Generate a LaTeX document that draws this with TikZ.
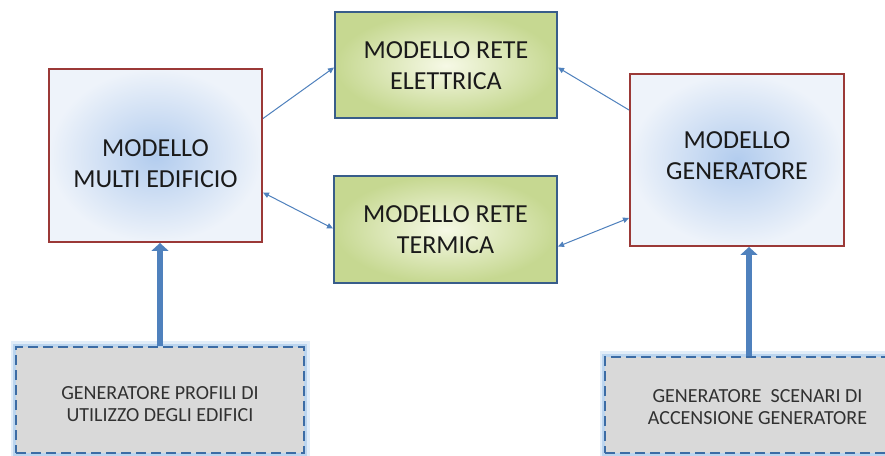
\documentclass[tikz,border=0pt]{standalone}
\usepackage{fontspec}
\setmainfont{Carlito}
\usepackage{tikz}
\usetikzlibrary{arrows.meta,positioning}
\definecolor{boxred}{RGB}{155,57,55}
\definecolor{paleblue}{RGB}{238,243,250}
\definecolor{blobblue}{RGB}{178,204,238}
\definecolor{edgegreen}{RGB}{198,216,145}
\definecolor{palegreen}{RGB}{246,249,230}
\definecolor{framenavy}{RGB}{56,93,138}
\definecolor{arrowblue}{RGB}{79,129,189}
\definecolor{dashblue}{RGB}{60,108,165}
\definecolor{glowblue}{RGB}{140,185,230}
\definecolor{boxgray}{RGB}{217,217,217}
\definecolor{inkgray}{RGB}{26,26,26}
\tikzset{
    %Define standard arrow tip
    >={Triangle[length=6pt,width=5.5pt]},
    %Define style for model boxes
    modelrect/.style={
           rectangle,
           draw=boxred, line width=2pt,
           minimum width=213pt,
           minimum height=173pt,
           shading=radial,
           inner color=blobblue,
           outer color=paleblue,
           font=\fontsize{26}{30.6}\selectfont,
           text=inkgray,
           align=center},
    reterect/.style={
           rectangle,
           draw=framenavy, line width=2pt,
           minimum width=222pt,
           minimum height=106pt,
           shading=radial,
           inner color=palegreen,
           outer color=edgegreen,
           font=\fontsize{26}{30.6}\selectfont,
           text=inkgray,
           align=center},
    inputrect/.style={
           rectangle,
           fill=boxgray,
           draw=dashblue, line width=2.5pt,
           dash pattern=on 10pt off 5pt,
           preaction={draw=glowblue, line width=11pt, opacity=0.25, solid},
           preaction={draw=glowblue, line width=6pt, opacity=0.45, solid},
           font=\fontsize{20}{22.5}\selectfont,
           text=inkgray!90,
           align=center},
    % Define arrow style
    pil/.style={
           ->,
           draw=arrowblue,
           line width=1pt},
    bipil/.style={
           <->,
           draw=arrowblue,
           line width=1pt},
    fat/.style={
           -{Triangle[length=8pt,width=17pt]},
           draw=arrowblue,
           line width=6.5pt}
}
\begin{document}
\begin{tikzpicture}[x=1pt,y=1pt]
\useasboundingbox[fill=white] (0,0) rectangle (885,455);
% models
\node[modelrect] (1) at (155.5,299.5) {\rule{0pt}{33pt}MODELLO\\MULTI EDIFICIO};
\node[reterect] (2) at (446,389.5) {MODELLO RETE\\ELETTRICA};
\node[reterect, minimum width=223pt, minimum height=107pt] (3) at (445.5,225.5) {MODELLO RETE\\TERMICA};
\node[modelrect, minimum width=214pt, minimum height=172pt] (4) at (737,295) {MODELLO\\GENERATORE\rule[-9pt]{0pt}{0pt}};
% inputs
\node[inputrect, minimum width=288pt, minimum height=106pt] (5) at (160,55) {\rule{0pt}{21pt}GENERATORE PROFILI DI\\UTILIZZO DEGLI EDIFICI};
\node[inputrect, minimum width=305pt, minimum height=96pt] (6) at (757.5,50) {\rule{0pt}{17pt}GENERATORE\ \ SCENARI DI\\ACCENSIONE GENERATORE};
\path
	([yshift=37pt]1.east) edge[pil] ([yshift=-2pt]2.west)
	([yshift=-37pt]1.east) edge[bipil] ([yshift=1pt]3.west)
	([yshift=50pt]4.west) edge[pil] ([yshift=-2pt]2.east)
	([yshift=-58pt]4.west) edge[bipil] ([yshift=-17pt]3.east);
\draw[fat] (5.north) -- (5.north |- 1.south);
\draw[fat] ([xshift=-8.5pt]6.north) -- ([xshift=-8.5pt]6.north |- 4.south);
\end{tikzpicture}
\end{document}
